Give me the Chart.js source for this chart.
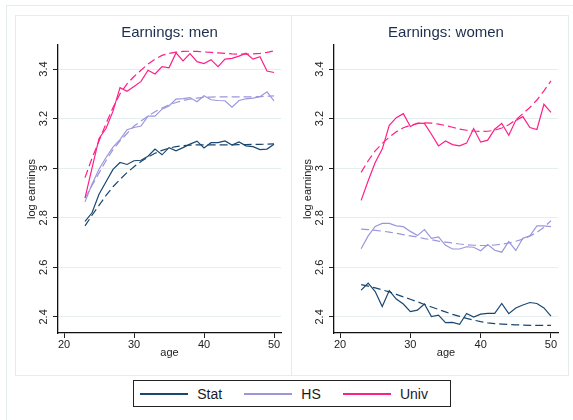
<!DOCTYPE html>
<html>
<head>
<meta charset="utf-8">
<script src="https://cdn.jsdelivr.net/npm/chart.js@4/dist/chart.umd.min.js"></script>
<style>
  html, body { margin: 0; padding: 0; background: #fff; }
  body { width: 573px; height: 420px; position: relative; overflow: hidden;
         font-family: "Liberation Sans", Arial, sans-serif; }
  .frame { position: absolute; box-sizing: border-box; border: 1px solid #e4ecee; }
  canvas { position: absolute; }
  #legend { position: absolute; left: 133px; top: 380px; width: 318px; height: 27px;
            box-sizing: border-box; border: 1px solid #222; display: flex;
            align-items: center; padding-left: 6px; font-size: 14px; font-weight: 400; color: #1a1a1a; }
  #legend .sw { width: 53px; height: 2px; margin-right: 9px; }
  #legend .lab { margin-right: 22px; line-height: 14px; font-weight: 400; }
</style>
</head>
<body>
<div class="frame" style="left:6px;top:5px;width:580px;height:430px;border-right:none;border-bottom:none;"></div>
<div class="frame" style="left:15px;top:15px;width:277px;height:361px;"></div>
<div class="frame" style="left:291px;top:15px;width:278px;height:361px;"></div>
<canvas id="men" width="276" height="360" style="left:15px;top:15px;"></canvas>
<canvas id="women" width="277" height="360" style="left:291px;top:15px;"></canvas>
<div id="legend"></div>
<script>
// Ages covered by the earnings profiles
const ages = [23, 24, 25, 26, 27, 28, 29, 30, 31, 32, 33, 34, 35, 36, 37, 38, 39, 40,
              41, 42, 43, 44, 45, 46, 47, 48, 49, 50];

// Men: observed mean log earnings and fitted profiles
const menStat     = [2.785, 2.820, 2.895, 2.945, 2.995, 3.023, 3.015, 3.030, 3.032, 3.048, 3.077, 3.054, 3.083, 3.070,
                     3.083, 3.097, 3.109, 3.082, 3.103, 3.103, 3.110, 3.093, 3.106, 3.090, 3.087, 3.075, 3.077, 3.097];
const menStatFit  = [2.767, 2.810, 2.850, 2.890, 2.925, 2.955, 2.982, 3.006, 3.027, 3.045, 3.060, 3.072, 3.081, 3.087,
                     3.091, 3.093, 3.094, 3.094, 3.094, 3.094, 3.094, 3.094, 3.095, 3.095, 3.096, 3.096, 3.097, 3.098];
const menHS       = [2.864, 2.935, 2.996, 3.043, 3.085, 3.115, 3.155, 3.164, 3.170, 3.210, 3.210, 3.238, 3.251, 3.279,
                     3.281, 3.285, 3.268, 3.292, 3.276, 3.273, 3.272, 3.246, 3.273, 3.280, 3.283, 3.288, 3.308, 3.272];
const menHSFit    = [2.880, 2.930, 2.980, 3.030, 3.075, 3.110, 3.140, 3.170, 3.190, 3.210, 3.228, 3.243, 3.255, 3.265,
                     3.273, 3.279, 3.283, 3.286, 3.287, 3.288, 3.288, 3.288, 3.288, 3.288, 3.288, 3.289, 3.290, 3.292];
const menUniv     = [2.880, 3.000, 3.120, 3.160, 3.230, 3.325, 3.310, 3.330, 3.350, 3.395, 3.380, 3.410, 3.405, 3.465,
                     3.433, 3.462, 3.430, 3.422, 3.438, 3.410, 3.440, 3.443, 3.452, 3.464, 3.440, 3.450, 3.392, 3.386];
const menUnivFit  = [2.962, 3.040, 3.110, 3.180, 3.245, 3.300, 3.340, 3.370, 3.395, 3.420, 3.440, 3.455, 3.463, 3.468,
                     3.471, 3.472, 3.471, 3.469, 3.467, 3.465, 3.463, 3.461, 3.460, 3.460, 3.461, 3.463, 3.467, 3.473];

// Women: observed mean log earnings and fitted profiles
const womenStat    = [2.508, 2.536, 2.502, 2.442, 2.506, 2.472, 2.452, 2.421, 2.427, 2.452, 2.401, 2.407, 2.377, 2.378,
                      2.370, 2.414, 2.399, 2.411, 2.414, 2.414, 2.454, 2.413, 2.436, 2.448, 2.458, 2.454, 2.436, 2.403];
const womenStatFit = [2.530, 2.524, 2.517, 2.509, 2.501, 2.491, 2.481, 2.471, 2.461, 2.450, 2.440, 2.430, 2.420, 2.410,
                      2.402, 2.394, 2.387, 2.381, 2.376, 2.373, 2.371, 2.369, 2.368, 2.367, 2.366, 2.366, 2.366, 2.366];
const womenHS      = [2.675, 2.727, 2.765, 2.777, 2.777, 2.767, 2.764, 2.745, 2.728, 2.752, 2.717, 2.723, 2.689, 2.674,
                      2.674, 2.683, 2.681, 2.667, 2.692, 2.669, 2.661, 2.704, 2.668, 2.717, 2.727, 2.767, 2.767, 2.764];
const womenHSFit   = [2.754, 2.752, 2.749, 2.746, 2.742, 2.737, 2.732, 2.727, 2.722, 2.716, 2.711, 2.706, 2.702, 2.698,
                      2.694, 2.691, 2.689, 2.688, 2.688, 2.690, 2.693, 2.698, 2.705, 2.714, 2.726, 2.741, 2.762, 2.788];
const womenUniv    = [2.870, 2.949, 3.023, 3.077, 3.173, 3.204, 3.220, 3.168, 3.182, 3.181, 3.137, 3.090, 3.110, 3.095,
                      3.090, 3.101, 3.160, 3.105, 3.113, 3.157, 3.181, 3.133, 3.193, 3.208, 3.164, 3.156, 3.258, 3.225];
const womenUnivFit = [2.983, 3.030, 3.070, 3.100, 3.125, 3.147, 3.163, 3.173, 3.180, 3.183, 3.182, 3.178, 3.172, 3.165,
                      3.158, 3.153, 3.150, 3.148, 3.149, 3.153, 3.162, 3.175, 3.195, 3.220, 3.245, 3.275, 3.312, 3.352];

// Axis ticks
const xTicks = [20, 30, 40, 50];
const yTicks = [2.4, 2.6, 2.8, 3.0, 3.2, 3.4];

const groupNames = ['Stat', 'HS', 'Univ'];
const groupColors = ['#1a476f', '#9c96dc', '#ff1f87'];

const FONT = '"Liberation Sans", Arial, sans-serif';
const INK = '#222';

function pairs(vals) { return ages.map((a, i) => ({ x: a, y: vals[i] })); }

function buildDatasets(observed, fitted) {
  const sets = [];
  observed.forEach((vals, i) => sets.push({
    label: groupNames[i], data: pairs(vals), borderColor: groupColors[i],
    borderWidth: 1.2, pointRadius: 0, tension: 0, fill: false
  }));
  fitted.forEach((vals, i) => sets.push({
    label: groupNames[i] + ' fit', data: pairs(vals), borderColor: groupColors[i],
    borderWidth: 1.2, borderDash: [8, 4], pointRadius: 0, tension: 0, fill: false
  }));
  return sets;
}

function makeChart(id, title, observed, fitted) {
  return new Chart(document.getElementById(id), {
    type: 'line',
    data: { datasets: buildDatasets(observed, fitted) },
    options: {
      responsive: false, animation: false, devicePixelRatio: 1,
      layout: { padding: { left: 0, right: 10, top: 0, bottom: 0 } },
      plugins: {
        legend: { display: false },
        tooltip: { enabled: false },
        title: {
          display: true, text: title, color: '#1c2d4d', fullSize: false,
          font: { family: FONT, size: 15, weight: 'normal' },
          padding: { top: 9, bottom: 3 }
        }
      },
      scales: {
        x: {
          type: 'linear', min: 19.14, max: 51,
          afterBuildTicks: s => { s.ticks = xTicks.map(v => ({ value: v })); },
          afterFit: s => { s.height = 42; },
          grid: { display: true, drawOnChartArea: false, drawTicks: true, tickLength: 5, tickColor: INK },
          border: { display: true, color: '#111', width: 1.3 },
          ticks: { color: INK, font: { family: FONT, size: 11 }, padding: 0, maxRotation: 0, autoSkip: false },
          title: { display: true, text: 'age', color: INK, font: { family: FONT, size: 11 },
                   padding: { top: 0, bottom: 15 } }
        },
        y: {
          type: 'linear', min: 2.335, max: 3.497,
          afterBuildTicks: s => { s.ticks = yTicks.map(v => ({ value: v })); },
          afterFit: s => { s.width = 43; },
          grid: { color: '#e6eff0', lineWidth: 1, tickLength: 5, tickColor: INK },
          border: { display: true, color: '#111', width: 1.3 },
          ticks: { color: INK, font: { family: FONT, size: 11 }, padding: 1,
                   minRotation: 90, maxRotation: 90, crossAlign: 'center',
                   callback: v => String(+v.toFixed(1)) },
          title: { display: true, text: 'log earnings', color: INK, font: { family: FONT, size: 11 },
                   padding: { top: 10, bottom: 0 } }
        }
      }
    }
  });
}

makeChart('men', 'Earnings: men', [menStat, menHS, menUniv], [menStatFit, menHSFit, menUnivFit]);
makeChart('women', 'Earnings: women', [womenStat, womenHS, womenUniv], [womenStatFit, womenHSFit, womenUnivFit]);

// Shared legend below both panels
const legend = document.getElementById('legend');
groupNames.forEach((name, i) => {
  const sw = document.createElement('span');
  sw.className = 'sw';
  sw.style.background = groupColors[i];
  const lab = document.createElement('span');
  lab.className = 'lab';
  lab.textContent = name;
  legend.appendChild(sw);
  legend.appendChild(lab);
});
</script>
</body>
</html>
